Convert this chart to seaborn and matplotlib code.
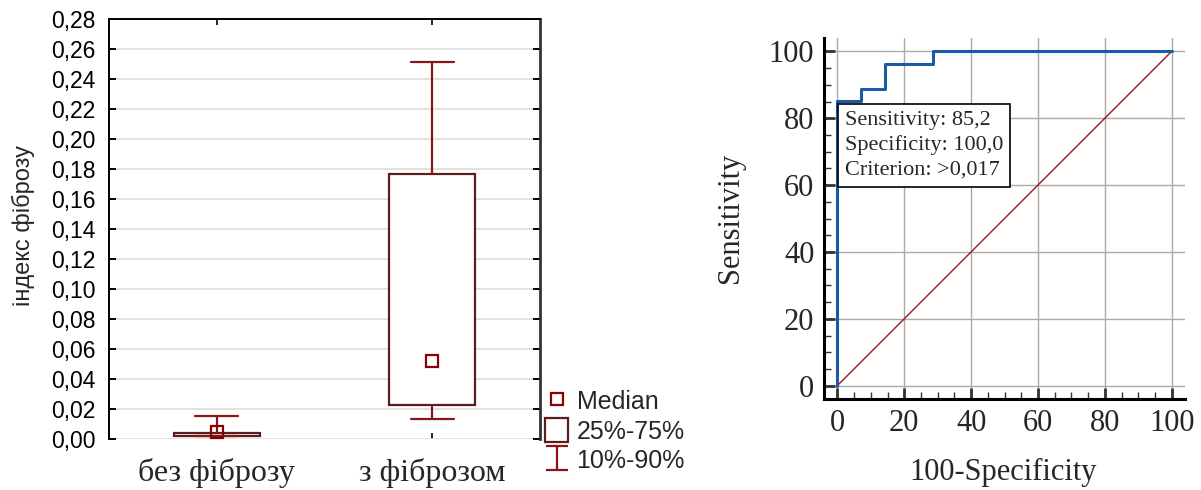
import matplotlib
matplotlib.use("Agg")
import matplotlib.pyplot as plt
import matplotlib.ticker as ticker
from matplotlib.lines import Line2D
from matplotlib.patches import Patch
from matplotlib.path import Path
import seaborn as sns
import pandas as pd

# Box plot data (index of fibrosis)
groups = ["без фіброзу", "з фіброзом"]
p10 = [0.002, 0.0133]
q1 = [0.002, 0.0226]
median = [0.0045, 0.052]
q3 = [0.004, 0.177]
p90 = [0.015, 0.2515]

# ROC curve data
fpr = [0, 0, 7.14, 7.14, 14.29, 14.29, 28.57, 28.57, 100]
tpr = [0, 85.19, 85.19, 88.89, 88.89, 96.30, 96.30, 100, 100]
diag = [0, 100]

sns.set_theme(style="white")
plt.rcParams["font.family"] = ["Liberation Sans", "DejaVu Sans"]

box_edge = "#5a1e1e"
whisk_col = "#8b1414"
serif = ["Liberation Serif", "DejaVu Serif"]

fig = plt.figure(figsize=(12.01, 4.9), dpi=100)

# ---------------- Left: box plot ----------------
ax = fig.add_axes([0.0908, 0.1041, 0.3588, 0.8571])

stats = []
for i in range(len(groups)):
    stats.append({"med": median[i], "q1": q1[i], "q3": q3[i],
                  "whislo": p10[i], "whishi": p90[i], "fliers": []})

ax.bxp(stats, positions=[0, 1], widths=0.40, capwidths=0.20,
       showfliers=False, patch_artist=True,
       boxprops=dict(facecolor="white", edgecolor=box_edge, linewidth=1.6),
       whiskerprops=dict(color=whisk_col, linewidth=1.6),
       capprops=dict(color=whisk_col, linewidth=1.6),
       medianprops=dict(linewidth=0), zorder=3)
ax.plot([0, 1], median, linestyle="none", marker="s", markersize=8.5,
        markerfacecolor="none", markeredgecolor="#8b0000", markeredgewidth=1.6, zorder=4)

ax.set_xlim(-0.5, 1.5)
ax.set_ylim(0, 0.28)
ax.yaxis.set_major_locator(ticker.MultipleLocator(0.02))
ax.yaxis.set_major_formatter(ticker.FuncFormatter(lambda v, p: f"{v:.2f}".replace(".", ",")))
ax.set_xticks([0, 1])
ax.set_xticklabels(groups, fontsize=23, family=serif)
ax.grid(axis="y", color="#dddddd", linewidth=1.2, zorder=0)
ax.set_axisbelow(True)
for s in ["left", "top"]:
    ax.spines[s].set_color("black")
    ax.spines[s].set_linewidth(1.4)
ax.spines["right"].set_color("#333333")
ax.spines["right"].set_linewidth(2.0)
ax.spines["bottom"].set_visible(False)
ax.tick_params(axis="y", which="both", left=True, right=True, direction="in",
               length=5, width=1.4, labelsize=16.5, pad=10, colors="black")
ax.tick_params(axis="x", top=True, bottom=True, direction="in", length=4,
               width=1.4, pad=14)
ax.set_ylabel("індекс фіброзу", fontsize=17)
ax.yaxis.set_label_coords(-0.172, 0.508)

whisker_marker = Path([(-0.9, 1), (0.9, 1), (0, 1), (0, -1), (-0.9, -1), (0.9, -1)],
                      [Path.MOVETO, Path.LINETO, Path.MOVETO, Path.LINETO,
                       Path.MOVETO, Path.LINETO])
legend_handles = [
    Line2D([], [], linestyle="none", marker="s", markersize=9, markerfacecolor="none",
           markeredgecolor="#8b0000", markeredgewidth=1.6),
    Patch(facecolor="white", edgecolor=box_edge, linewidth=1.6),
    Line2D([], [], linestyle="none", markersize=17, markeredgewidth=1.6, color=whisk_col,
           marker=whisker_marker),
]
fig.legend(legend_handles, ["Median", "25%-75%", "10%-90%"], loc="lower left",
           bbox_to_anchor=(0.454, 0.035), frameon=False, fontsize=18,
           borderpad=0, borderaxespad=0,
           handlelength=0.9, handleheight=1.1, handletextpad=0.35, labelspacing=0.15)

# ---------------- Right: ROC curve ----------------
ax2 = fig.add_axes([0.6861, 0.1857, 0.3006, 0.7367])
roc = pd.DataFrame({"fpr": fpr, "tpr": tpr})
sns.lineplot(data=roc, x="fpr", y="tpr", estimator=None, sort=False,
             color="#1c5aa6", linewidth=2.2, ax=ax2, zorder=3)
sns.lineplot(x=diag, y=diag, estimator=None, sort=False,
             color="#a01414", linewidth=1.0, ax=ax2, zorder=2)

ax2.set_xlim(-4, 104)
ax2.set_ylim(-4, 104)
ax2.xaxis.set_major_locator(ticker.MultipleLocator(20))
ax2.yaxis.set_major_locator(ticker.MultipleLocator(20))
ax2.xaxis.set_minor_locator(ticker.MultipleLocator(5))
ax2.yaxis.set_minor_locator(ticker.MultipleLocator(5))
ax2.grid(which="major", color="#aaaaaa", linewidth=1.0, zorder=0)
ax2.set_axisbelow(True)
for s in ["top", "right"]:
    ax2.spines[s].set_visible(False)
for s in ["left", "bottom"]:
    ax2.spines[s].set_color("black")
    ax2.spines[s].set_linewidth(2.2)
ax2.tick_params(which="major", direction="in", length=8, width=2.0, color="#333333",
                labelsize=22, pad=7, left=True, bottom=True)
ax2.tick_params(which="minor", direction="in", length=5, width=1.0, color="#333333",
                left=True, bottom=True)
for lab in ax2.get_xticklabels() + ax2.get_yticklabels():
    lab.set_family(serif)
ax2.set_xlabel("100-Specificity", fontsize=22, family=serif)
ax2.set_ylabel("Sensitivity", fontsize=22, family=serif)
ax2.xaxis.set_label_coords(0.496, -0.163)
ax2.yaxis.set_label_coords(-0.219, 0.501)

ax2.text(2.2, 82.2, "Sensitivity: 85,2\nSpecificity: 100,0\nCriterion: >0,017",
         ha="left", va="top", fontsize=16, family=serif, linespacing=1.38,
         bbox=dict(boxstyle="square,pad=0.32", facecolor="white", edgecolor="black",
                   linewidth=1.2), zorder=5)

fig.savefig("out.png", dpi=100)
